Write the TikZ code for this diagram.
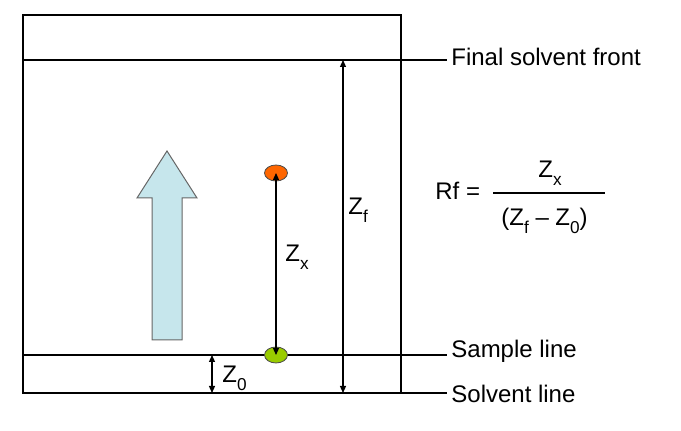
\documentclass[tikz,border=0pt]{standalone}
\usepackage{fontspec}
\setmainfont{Liberation Sans}
\usetikzlibrary{arrows.meta,shapes.geometric}

\definecolor{spotorange}{RGB}{255,102,0}
\definecolor{spotgreen}{RGB}{153,204,0}
\definecolor{flowblue}{RGB}{198,230,236}

\newcommand{\zsub}[1]{\raisebox{-0.3em}{\fontsize{8.6}{9}\selectfont #1}}

\tikzset{
  plate/.style={line width=0.6pt},
  dim/.style={line width=0.6pt, {Triangle[length=3.5pt,width=3pt]}-{Triangle[length=3.5pt,width=3pt]}},
  spot/.style={ellipse, draw=black!70, line width=0.4pt, minimum width=11.5pt, minimum height=8pt, inner sep=0pt},
  lbl/.style={anchor=base west, inner sep=0pt, font=\fontsize{12}{14}\selectfont},
}

\begin{document}
\begin{tikzpicture}[x=0.5pt,y=-0.5pt]
%
         \useasboundingbox (0,0) rectangle (681,431);

         \coordinate (tl)     at (23,15);
         \coordinate (br)     at (401,393);
         \coordinate (frontL) at (23,60);
         \coordinate (frontR) at (447,60);
         \coordinate (sampL)  at (23,355);
         \coordinate (sampR)  at (447,355);
         \coordinate (solvL)  at (23,393);
         \coordinate (solvR)  at (447,393);

         \node [lbl] (front) at (451,66)  {Final solvent front};
         \node [lbl] (samp)  at (451,358) {Sample line};
         \node [lbl] (solv)  at (451,403) {Solvent line};

         \draw [plate] (tl) rectangle (br);
         \draw [plate] (frontL) -- (frontR);
         \draw [plate] (sampL) -- (sampR);
         \draw [plate] (solvL) -- (solvR);

         \draw [fill=flowblue, draw=black!60, line width=0.5pt]
               (152,340) -- (152,198) -- (137,198) -- (167,151)
               -- (197,198) -- (182,198) -- (182,340) -- cycle;

  		 \coordinate (zfTop) at (343,60);
  		 \coordinate (zfBot) at (343,393);
  		 \coordinate (zoTop) at (212,355);
  		 \coordinate (zoBot) at (212,393);
  		 \draw [dim] (zfTop) -- (zfBot);
  		 \draw [dim] (zoTop) -- (zoBot);

  		 \node [spot, fill=spotorange] (orange) at (276,173) {};
  		 \node [spot, fill=spotgreen]  (green)  at (276,355) {};
  		 \draw [dim] (orange.center) -- (green.center);

  		 \node [lbl] (zf) at (348,215) {Z\zsub{f}};
  		 \node [lbl] (zx) at (285,262) {Z\zsub{x}};
  		 \node [lbl] (zo) at (222,383) {Z\zsub{0}};

  		 % Rf formula
  		 \node [lbl] (rf)  at (435,200) {Rf =};
  		 \node [lbl] (num) at (538,178) {Z\zsub{x}};
  		 \node [lbl] (den) at (501,226) {(Z\zsub{f} – Z\zsub{0})};
  		 \coordinate (barL) at (493,193);
  		 \coordinate (barR) at (605,193);
  		 \draw [plate] (barL) -- (barR);

\end{tikzpicture}
\end{document}
